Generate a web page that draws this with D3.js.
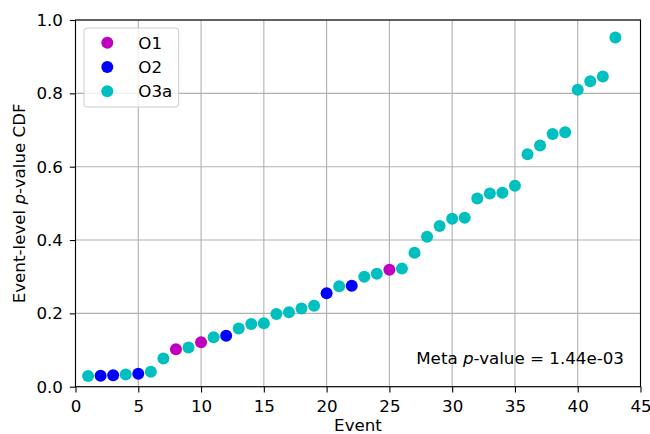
<!DOCTYPE html>
<html>
<head>
<meta charset="utf-8">
<script src="https://cdn.jsdelivr.net/npm/d3@7"></script>
<style>
  body { margin: 0; background: #fff; }
  svg { font-family: "DejaVu Sans", sans-serif; }
</style>
</head>
<body>
<svg id="chart" width="650" height="434"></svg>
<script>
// event index, cdf value and observing run for every point
const events = [1,2,3,4,5,6,7,8,9,10,11,12,13,14,15,16,17,18,19,20,21,22,23,24,25,26,27,28,29,30,31,32,33,34,35,36,37,38,39,40,41,42,43];
const cdf = [0.029,0.030,0.031,0.033,0.035,0.041,0.077,0.102,0.107,0.121,0.135,0.139,0.159,0.171,0.173,
  0.198,0.203,0.213,0.221,0.255,0.274,0.275,0.300,0.308,0.319,0.322,0.365,0.409,0.438,0.458,0.461,
  0.513,0.527,0.529,0.548,0.634,0.658,0.689,0.694,0.810,0.833,0.846,0.952];
const runs = ["O3a","O2","O2","O3a","O2","O3a","O3a","O1","O3a","O1","O3a","O2","O3a","O3a","O3a",
  "O3a","O3a","O3a","O3a","O2","O3a","O2","O3a","O3a","O1","O3a","O3a","O3a","O3a","O3a","O3a",
  "O3a","O3a","O3a","O3a","O3a","O3a","O3a","O3a","O3a","O3a","O3a","O3a"];
const runNames = ["O1", "O2", "O3a"];
const runColors = ["#bf00bf", "#0000ff", "#00bfbf"];
const xTicks = [0,5,10,15,20,25,30,35,40,45];
const yTicks = [0,0.2,0.4,0.6,0.8,1.0];
const metaP = "1.44e-03";

const svg = d3.select("#chart");
const mLeft = 75.5, mRight = 640.5, mTop = 20, mBottom = 386.7;
const fs = 16.7;

const x = d3.scaleLinear().domain([0, 45]).range([mLeft, mRight]);
const y = d3.scaleLinear().domain([0, 1]).range([mBottom, mTop]);
const color = d3.scaleOrdinal().domain(runNames).range(runColors);

// grid
svg.append("g").selectAll("line").data(xTicks).enter().append("line")
  .attr("x1", d => x(d)).attr("x2", d => x(d))
  .attr("y1", mTop).attr("y2", mBottom)
  .attr("stroke", "#b0b0b0").attr("stroke-width", 1.1);
svg.append("g").selectAll("line").data(yTicks).enter().append("line")
  .attr("x1", mLeft).attr("x2", mRight)
  .attr("y1", d => y(d)).attr("y2", d => y(d))
  .attr("stroke", "#b0b0b0").attr("stroke-width", 1.1);

// points
let pts = events.map((e, i) => ({event: e, value: cdf[i], run: runs[i]}));
svg.append("g").selectAll("circle").data(pts).enter().append("circle")
  .attr("cx", d => x(d.event))
  .attr("cy", d => y(d.value))
  .attr("r", 6)
  .attr("fill", d => color(d.run));

// frame
svg.append("rect")
  .attr("x", mLeft).attr("y", mTop)
  .attr("width", mRight - mLeft).attr("height", mBottom - mTop)
  .attr("fill", "none").attr("stroke", "#000").attr("stroke-width", 1.1);

// axes
let xAxis = svg.append("g")
  .attr("transform", "translate(0," + mBottom + ")")
  .call(d3.axisBottom(x).tickValues(xTicks).tickFormat(d3.format("d")).tickSize(5.7).tickPadding(7.3));
let yAxis = svg.append("g")
  .attr("transform", "translate(" + mLeft + ",0)")
  .call(d3.axisLeft(y).tickValues(yTicks).tickFormat(d3.format(".1f")).tickSize(5.7).tickPadding(6.8));
[xAxis, yAxis].forEach(a => {
  a.select(".domain").remove();
  a.selectAll("line").attr("stroke", "#000").attr("stroke-width", 1.1);
  a.selectAll("text").attr("font-size", fs).attr("fill", "#000")
    .attr("font-family", "DejaVu Sans");
});

// axis labels
svg.append("text")
  .attr("x", (mLeft + mRight) / 2).attr("y", 431)
  .attr("text-anchor", "middle").attr("font-size", fs)
  .text("Event");
let yl = svg.append("text")
  .attr("transform", "translate(25," + ((mTop + mBottom) / 2) + ")rotate(-90)")
  .attr("text-anchor", "middle").attr("font-size", fs);
yl.append("tspan").text("Event-level ");
yl.append("tspan").attr("font-style", "italic").text("p");
yl.append("tspan").text("-value CDF");

// meta p-value annotation
let meta = svg.append("text")
  .attr("x", 624).attr("y", 364)
  .attr("text-anchor", "end").attr("font-size", fs);
meta.append("tspan").text("Meta ");
meta.append("tspan").attr("font-style", "italic").text("p");
meta.append("tspan").text("-value = " + metaP);

// legend
let legend = svg.append("g").attr("transform", "translate(84,28)");
legend.append("rect")
  .attr("width", 94.7).attr("height", 79).attr("rx", 3)
  .attr("fill", "#fff").attr("fill-opacity", 0.8)
  .attr("stroke", "#cccccc").attr("stroke-width", 1);
let item = legend.selectAll(".item").data(runNames).enter().append("g")
  .attr("class", "item")
  .attr("transform", (d, i) => "translate(0," + (14.7 + i * 24.3) + ")");
item.append("circle").attr("cx", 23.3).attr("cy", 0).attr("r", 6)
  .attr("fill", d => color(d));
item.append("text").attr("x", 54.3).attr("y", 0).attr("dy", "0.35em")
  .attr("font-size", fs).text(d => d);
</script>
</body>
</html>
